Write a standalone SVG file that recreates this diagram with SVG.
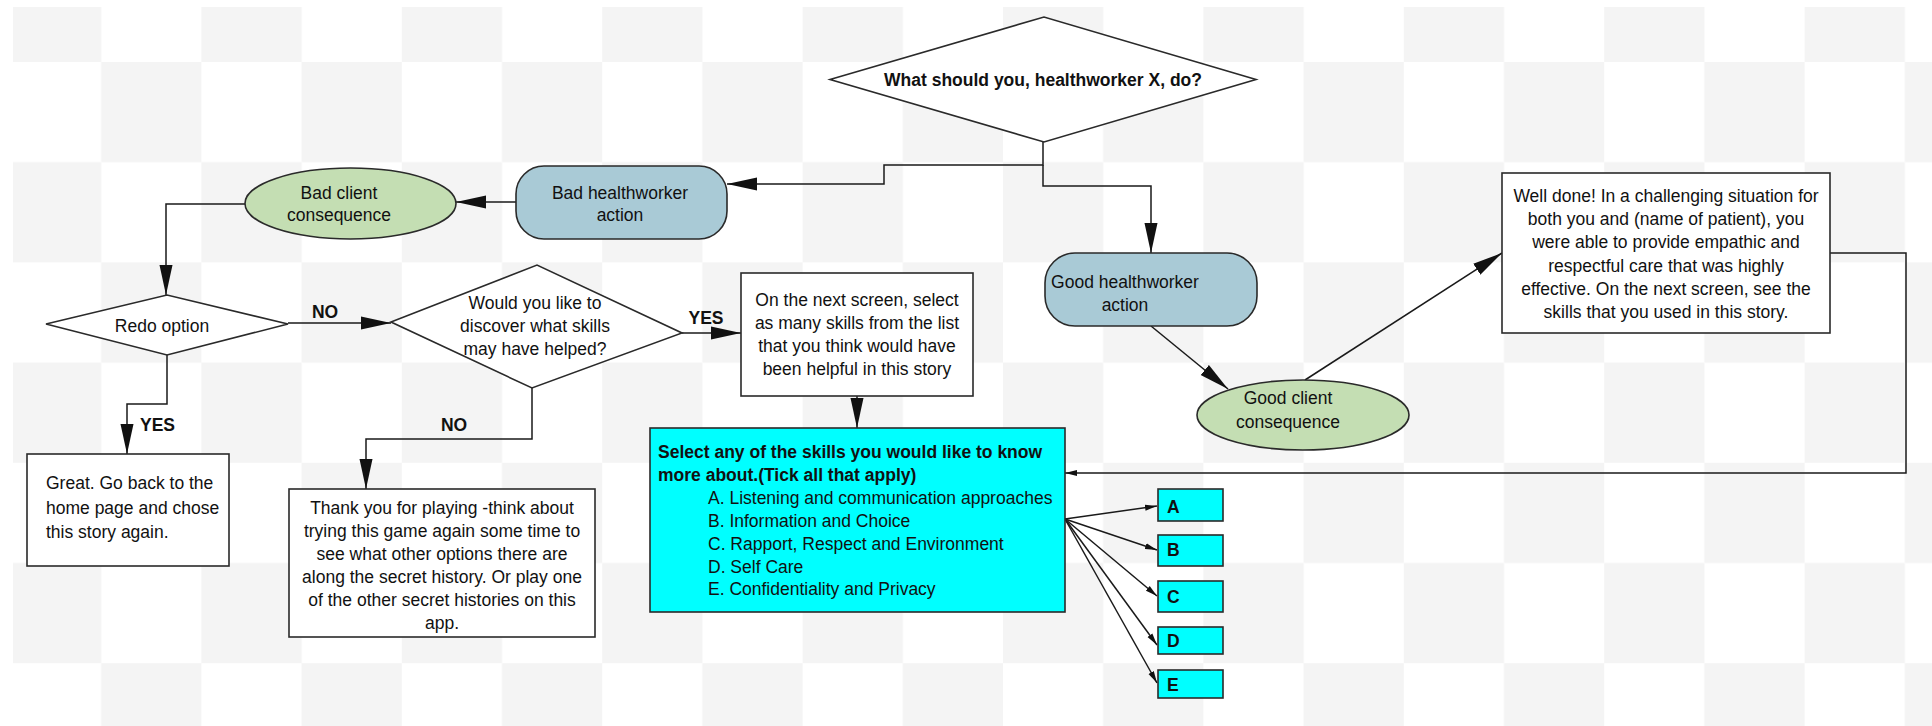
<svg xmlns="http://www.w3.org/2000/svg" width="1932" height="726" viewBox="0 0 1932 726">
<style>
text{font-family:"Liberation Sans",Arial,Helvetica,sans-serif;font-size:17.5px;fill:#111}
.b{font-weight:bold}
.m{text-anchor:middle}
.node{stroke:#2a2a2a;stroke-width:1.6}
.white{fill:#fff}
.hw{fill:#a9cad6}
.cl{fill:#c4deb3}
.cy{fill:#00ffff}
.con{fill:none;stroke:#1a1a1a;stroke-width:1.5}
</style>
<defs>
<pattern id="chk" x="1" y="62" width="200.4" height="200.4" patternUnits="userSpaceOnUse">
<rect width="200.4" height="200.4" fill="#ffffff"/>
<rect x="100.2" y="0" width="100.2" height="100.2" fill="#f4f4f4"/>
<rect x="0" y="100.2" width="100.2" height="100.2" fill="#f4f4f4"/>
</pattern>
<marker id="ah" markerUnits="userSpaceOnUse" markerWidth="30" markerHeight="14" refX="30" refY="7" orient="auto">
<path d="M0,0.5 L30,7 L0,13.5 z" fill="#111"/>
</marker>
<marker id="as" markerUnits="userSpaceOnUse" markerWidth="12" markerHeight="7" refX="12" refY="3.5" orient="auto">
<path d="M0,0.5 L12,3.5 L0,6.5 z" fill="#111"/>
</marker>
</defs>
<rect width="1932" height="726" fill="#fff"/>
<rect x="13" y="7" width="1919" height="719" fill="url(#chk)"/>

<g id="connectors">
<path class="con" d="M1043,142 V165 H884 V184 H727" marker-end="url(#ah)"/>
<path class="con" d="M1043,165 V186 H1151 V253" marker-end="url(#ah)"/>
<path class="con" d="M516,202 H456" marker-end="url(#ah)"/>
<path class="con" d="M245,204 H166 V295" marker-end="url(#ah)"/>
<path class="con" d="M288,323 H391" marker-end="url(#ah)"/>
<path class="con" d="M167,355 V404 H127 V454" marker-end="url(#ah)"/>
<path class="con" d="M682,333 H741" marker-end="url(#ah)"/>
<path class="con" d="M532,388 V439 H366 V489" marker-end="url(#ah)"/>
<path class="con" d="M857,396 V428" marker-end="url(#ah)"/>
<path class="con" d="M1151,326 L1228,389" marker-end="url(#ah)"/>
<path class="con" d="M1305,380 L1502,253" marker-end="url(#ah)"/>
<path class="con" d="M1830,253 H1906 V473 H1065" marker-end="url(#as)"/>
<path class="con" d="M1065,519 L1157,506" marker-end="url(#as)"/>
<path class="con" d="M1065,519 L1157,550" marker-end="url(#as)"/>
<path class="con" d="M1065,519 L1157,596" marker-end="url(#as)"/>
<path class="con" d="M1065,519 L1157,645" marker-end="url(#as)"/>
<path class="con" d="M1065,519 L1157,683" marker-end="url(#as)"/>
<text class="b m" x="325" y="318">NO</text>
<text class="b m" x="706" y="324">YES</text>
<text class="b" x="140" y="431">YES</text>
<text class="b m" x="454" y="431">NO</text>
</g>

<g id="n-question">
<polygon class="node white" points="830,79.5 1044,17 1256,79.5 1044,142"/>
<text class="b m" x="1043" y="86">What should you, healthworker X, do?</text>
</g>

<g id="n-bad-action">
<rect class="node hw" x="516" y="166" width="211" height="73" rx="28" ry="28"/>
<text class="m" x="620" y="199">Bad healthworker</text>
<text class="m" x="620" y="221">action</text>
</g>

<g id="n-bad-consequence">
<ellipse class="node cl" cx="350.5" cy="203.5" rx="105.5" ry="35.5"/>
<text class="m" x="339" y="199">Bad client</text>
<text class="m" x="339" y="221">consequence</text>
</g>

<g id="n-redo">
<polygon class="node white" points="46,324 167,295 288,324 167,355"/>
<text class="m" x="162" y="332">Redo option</text>
</g>

<g id="n-discover">
<polygon class="node white" points="391,322 537,265 682,333 532,388"/>
<text class="m" x="535" y="309">Would you like to</text>
<text class="m" x="535" y="332">discover what skills</text>
<text class="m" x="535" y="355">may have helped?</text>
</g>

<g id="n-next-screen">
<rect class="node white" x="741" y="273" width="232" height="123"/>
<text class="m" x="857" y="306">On the next screen, select</text>
<text class="m" x="857" y="329">as many skills from the list</text>
<text class="m" x="857" y="352">that you think would have</text>
<text class="m" x="857" y="375">been helpful in this story</text>
</g>

<g id="n-great">
<rect class="node white" x="27" y="454" width="202" height="112"/>
<text x="46" y="489">Great. Go back to the</text>
<text x="46" y="514">home page and chose</text>
<text x="46" y="538">this story again.</text>
</g>

<g id="n-thank-you">
<rect class="node white" x="289" y="489" width="306" height="148"/>
<text class="m" x="442" y="514">Thank you for playing -think about</text>
<text class="m" x="442" y="537">trying this game again some time to</text>
<text class="m" x="442" y="560">see what other options there are</text>
<text class="m" x="442" y="583">along the secret history. Or play one</text>
<text class="m" x="442" y="606">of the other secret histories on this</text>
<text class="m" x="442" y="629">app.</text>
</g>

<g id="n-select-skills">
<rect class="node cy" x="650" y="428" width="415" height="184"/>
<text class="b" x="658" y="458">Select any of the skills you would like to know</text>
<text class="b" x="658" y="481">more about.(Tick all that apply)</text>
<text x="708" y="504">A. Listening and communication approaches</text>
<text x="708" y="527">B. Information and Choice</text>
<text x="708" y="550">C. Rapport, Respect and Environment</text>
<text x="708" y="573">D. Self Care</text>
<text x="708" y="595">E. Confidentiality and Privacy</text>
</g>

<g id="n-good-action">
<rect class="node hw" x="1045" y="253" width="212" height="73" rx="30" ry="30"/>
<text class="m" x="1125" y="288">Good healthworker</text>
<text class="m" x="1125" y="311">action</text>
</g>

<g id="n-good-consequence">
<ellipse class="node cl" cx="1303" cy="415" rx="106" ry="35"/>
<text class="m" x="1288" y="404">Good client</text>
<text class="m" x="1288" y="428">consequence</text>
</g>

<g id="n-well-done">
<rect class="node white" x="1502" y="173" width="328" height="160"/>
<text class="m" x="1666" y="202">Well done! In a challenging situation for</text>
<text class="m" x="1666" y="225">both you and (name of patient), you</text>
<text class="m" x="1666" y="248">were able to provide empathic and</text>
<text class="m" x="1666" y="272">respectful care that was highly</text>
<text class="m" x="1666" y="295">effective. On the next screen, see the</text>
<text class="m" x="1666" y="318">skills that you used in this story.</text>
</g>

<g id="n-a">
<rect class="node cy" x="1158" y="489" width="65" height="32"/>
<text class="b" x="1167" y="513">A</text>
</g>
<g id="n-b">
<rect class="node cy" x="1158" y="535" width="65" height="31"/>
<text class="b" x="1167" y="556">B</text>
</g>
<g id="n-c">
<rect class="node cy" x="1158" y="581" width="65" height="31"/>
<text class="b" x="1167" y="603">C</text>
</g>
<g id="n-d">
<rect class="node cy" x="1158" y="627" width="65" height="27"/>
<text class="b" x="1167" y="647">D</text>
</g>
<g id="n-e">
<rect class="node cy" x="1158" y="670" width="65" height="28"/>
<text class="b" x="1167" y="691">E</text>
</g>
</svg>
